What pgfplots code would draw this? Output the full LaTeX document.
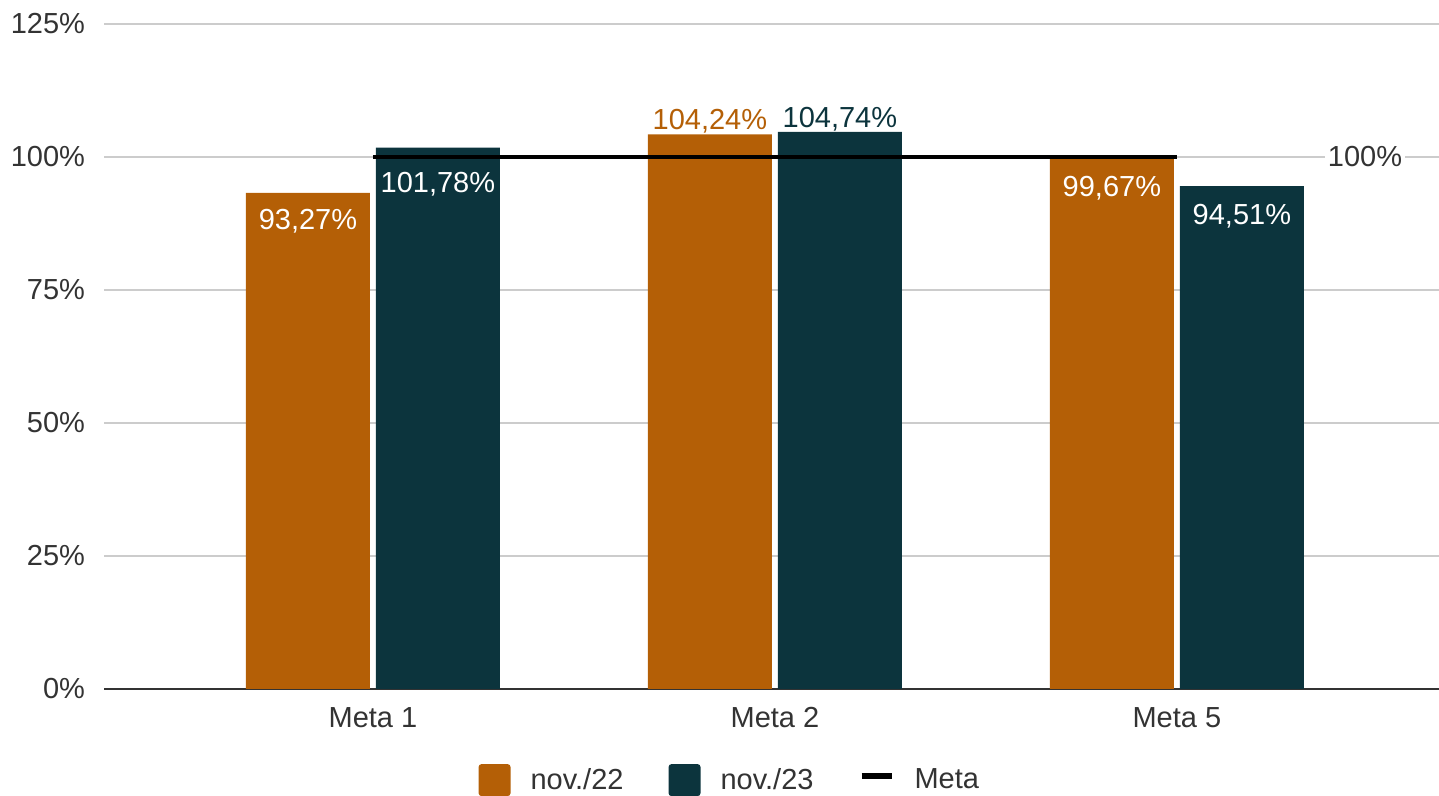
\documentclass[border=0pt]{standalone}
\usepackage{pgfplots}
\pgfplotsset{compat=1.18}
\usepackage{pgfplotstable}
\usepackage{fontspec}
\setmainfont{Liberation Sans}
\definecolor{cOr}{HTML}{B45F06}
\definecolor{cTe}{HTML}{0C343D}
\definecolor{cGrid}{HTML}{CCCCCC}
\definecolor{cTxt}{HTML}{333333}
\newcommand{\fs}{\fontsize{14.5}{17}\selectfont}

% dy: label baseline shift (pt); mix: 0 = white label inside, 100 = coloured label above
\pgfplotstableread{
x y      dy    mix
0 93.27  -18.5 0
1 104.24 2.25  100
2 99.67  -19   0
}\novA
\pgfplotstableread{
x y      dy    mix
0 101.78 -22.5 0
1 104.74 2.25  100
2 94.51  -19   0
}\novB
\pgfplotstableread{
x y
0 100
2 100
}\meta

\pgfplotsset{
    barlabels/.style 2 args={
        point meta=y,
        nodes near coords={\pgfmathprintnumber[fixed,fixed zerofill,precision=2,use comma]{\pgfplotspointmeta}\%},
        visualization depends on={\thisrow{dy} \as \lbldy},
        visualization depends on={\thisrow{mix} \as \lblmix},
        every node near coord/.append style={font=\fs, anchor=base, xshift=#2, yshift=\lbldy pt, text={#1!\lblmix!white}},
    },
}

\begin{document}
\begin{tikzpicture}
\begin{axis}[
    at={(0,0)}, anchor=south west,
    scale only axis,
    width=667.5pt, height=332.5pt,
    xmin=-0.669, xmax=2.652,
    ymin=0, ymax=125,
    axis line style={draw=none},
    major tick length=0pt,
    xtick={0,1,2},
    xticklabels={Meta 1, Meta 2, Meta 5},
    ytick={0,25,...,125},
    yticklabel={\pgfmathprintnumber{\tick}\%},
    /pgf/number format/assume math mode=true,
    ymajorgrids,
    grid style={cGrid, line width=0.75pt},
    extra y ticks={0},
    extra y tick labels={},
    extra y tick style={grid style={cTxt, line width=1pt}},
    tick label style={font=\fs, text=cTxt},
    yticklabel style={xshift=-6pt},
    xticklabel style={yshift=-5.7pt},
    legend columns=3,
    legend style={
        at={(axis description cs:0.468,-0.137)}, anchor=center,
        draw=none, fill=none, font=\fs, text=cTxt,
        nodes={inner xsep=0pt},
        /tikz/every odd column/.append style={column sep=10pt},
        /tikz/every even column/.append style={column sep=22.5pt},
    },
]
\addplot[ybar, bar width=62pt, bar shift=-32.5pt, fill=cOr, draw=none, barlabels={cOr}{-32.5pt},
    legend image code/.code={\fill[cOr, rounded corners=1.5pt] (0pt,-8pt) rectangle (16pt,8pt);}]
    table[x=x, y=y] {\novA};
\addlegendentry{nov./22}
\addplot[ybar, bar width=62pt, bar shift=32.5pt, fill=cTe, draw=none, barlabels={cTe}{32.5pt},
    legend image code/.code={\fill[cTe, rounded corners=1.5pt] (0pt,-8pt) rectangle (16pt,8pt);}]
    table[x=x, y=y] {\novB};
\addlegendentry{nov./23}
\addplot[black, line width=2pt, no marks,
    legend image code/.code={\draw[black, line width=3pt] (0pt,2pt) -- (15pt,2pt);}]
    table[x=x, y=y] {\meta};
\addlegendentry{Meta}
\node[fill=white, inner xsep=1.5pt, inner ysep=1pt, font=\fs, text=cTxt] at (axis cs:2.468,100) {100\%};
\end{axis}
\pgfresetboundingbox
\useasboundingbox (-52pt,-53.5pt) rectangle (667.5pt,344.5pt);
\end{tikzpicture}
\end{document}
